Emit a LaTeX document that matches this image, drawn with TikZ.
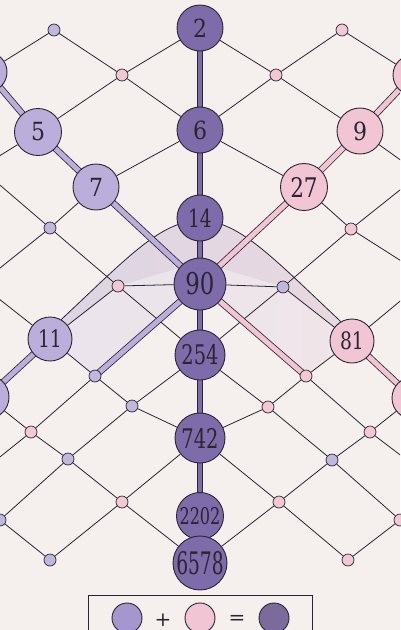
\documentclass[tikz,border=0pt]{standalone}
\usepackage{graphicx}
\usepackage{fontspec}
\setmainfont{DejaVu Serif}
\usetikzlibrary{backgrounds}

\definecolor{paper}{HTML}{F5F0EE}
\definecolor{ink}{HTML}{2B2433}
\definecolor{deep}{HTML}{7D6BAA}
\definecolor{lilac}{HTML}{BBAEDB}
\definecolor{rose}{HTML}{F1C5D3}
\definecolor{lilacdot}{HTML}{BFB8DD}
\definecolor{rosedot}{HTML}{F2C8D3}
\definecolor{bandL}{HTML}{DCD5E4}
\definecolor{bandR}{HTML}{E9D8DF}
\definecolor{hazeL}{HTML}{EAE4EC}
\definecolor{hazeR}{HTML}{F0E5E9}
\definecolor{keydeep}{HTML}{7A6B9C}
\definecolor{keylilac}{HTML}{A596CE}

\newcommand{\nodenum}[3]{\fontsize{#1}{#1}\selectfont\scalebox{#2}[1]{#3}}

\tikzset{
	numnode/.style = {draw = ink, shape = circle, line width = 0.9pt,
					  inner sep = 0pt, text = ink},
	centre/.style = {numnode, fill = deep},
	lilacnode/.style = {numnode, fill = lilac},
	rosenode/.style = {numnode, fill = rose},
	dotL/.style = {draw = ink, shape = circle, line width = 0.7pt,
				   inner sep = 0pt, minimum size = 12pt, fill = lilacdot},
	dotR/.style = {dotL, fill = rosedot},
	mesh/.style = {draw = ink, line width = 0.8pt},
	spine/.style = {draw = ink, line width = 0.8pt, double = deep,
					double distance = 4.5pt, shorten <= -3pt, shorten >= -3pt},
	lilacbar/.style = {spine, double = lilac, double distance = 5pt},
	rosebar/.style = {spine, double = rose, double distance = 5pt}
}

\begin{document}
\begin{tikzpicture}[x = 1pt, y = -1pt]

	\useasboundingbox (0,0) rectangle (400,630);

	% column
	\draw (200,28) node[centre, minimum size = 46pt] (n2) {\nodenum{25}{0.88}{2}};
	\draw (200,130) node[centre, minimum size = 46pt] (n6) {\nodenum{25}{0.88}{6}};
	\draw (200,218) node[centre, minimum size = 46pt] (n14) {\nodenum{25}{0.74}{14}};
	\draw (200,284) node[centre, minimum size = 52pt] (n90) {\nodenum{30}{0.76}{90}};
	\draw (200,355) node[centre, minimum size = 50pt] (n254) {\nodenum{27}{0.72}{254}};
	\draw (200,438) node[centre, minimum size = 50pt] (n742) {\nodenum{27}{0.72}{742}};
	\draw (200,516) node[centre, minimum size = 47pt] (n2202) {\nodenum{23}{0.7}{2202}};
	\draw (200,563) node[centre, minimum size = 54pt] (n6578) {\nodenum{31}{0.6}{6578}};

	\draw (38,132) node[lilacnode, minimum size = 47pt] (n5) {\nodenum{25}{0.88}{5}};
	\draw (96,187) node[lilacnode, minimum size = 46pt] (n7) {\nodenum{25}{0.88}{7}};
	\draw (50,339) node[lilacnode, minimum size = 44pt] (n11) {\nodenum{24}{0.78}{11}};
	\draw (-13,72) node[lilacnode, minimum size = 40pt] (edgeL1) {};
	\draw (-13,397) node[lilacnode, minimum size = 44pt] (edgeL2) {};

	\draw (360,131) node[rosenode, minimum size = 46pt] (n9) {\nodenum{25}{0.88}{9}};
	\draw (304,187) node[rosenode, minimum size = 47pt] (n27) {\nodenum{27}{0.8}{27}};
	\draw (352,341) node[rosenode, minimum size = 44pt] (n81) {\nodenum{24}{0.78}{81}};
	\draw (413,75) node[rosenode, minimum size = 40pt] (edgeR1) {};
	\draw (413,398) node[rosenode, minimum size = 42pt] (edgeR2) {};

	% small dots
	\draw (54,30) node[dotL] (da) {};
	\draw (122,75) node[dotR] (db) {};
	\draw (276,75) node[dotR] (dc) {};
	\draw (342,30) node[dotR] (dd) {};
	\draw (50,228) node[dotL] (de) {};
	\draw (351,229) node[dotR] (df) {};
	\draw (118,286) node[dotR] (dg) {};
	\draw (283,287) node[dotL] (dh) {};
	\draw (95,376) node[dotL] (di) {};
	\draw (306,376) node[dotR] (dj) {};
	\draw (132,406) node[dotL] (dk) {};
	\draw (268,407) node[dotR] (dl) {};
	\draw (31,432) node[dotR] (dm) {};
	\draw (370,432) node[dotR] (dn) {};
	\draw (68,459) node[dotL] (do) {};
	\draw (332,460) node[dotL] (dp) {};
	\draw (122,502) node[dotR] (dq) {};
	\draw (279,502) node[dotR] (dr) {};
	\draw (0,520) node[dotL] (ds) {};
	\draw (400,520) node[dotR] (dt) {};
	\draw (50,560) node[dotL] (du) {};
	\draw (348,560) node[dotR] (dv) {};

	\coordinate (offL1) at (-20,168);
	\coordinate (offL2) at (-20,284);
	\coordinate (offL3) at (-20,473);
	\coordinate (offR1) at (420,174);
	\coordinate (offR2) at (428,278);
	\coordinate (offR3) at (420,470);
	\coordinate (apex) at (200,220);

	% key
	\draw[ink, line width = 0.8pt] (88,595) rectangle (312,660);
	\draw (127,618) node[numnode, fill = keylilac, minimum size = 30pt] (keyA) {};
	\draw (163,620) node[text = ink] (plus) {\nodenum{20}{1}{+}};
	\draw (200,618) node[numnode, fill = rose, minimum size = 30pt] (keyB) {};
	\draw (237,620) node[text = ink] (equals) {\nodenum{20}{1}{=}};
	\draw (274,618) node[numnode, fill = keydeep, minimum size = 30pt] (keyC) {};

	\begin{pgfonlayer}{background}
		\clip (0,0) rectangle (400,630);
		\fill[paper] (0,0) rectangle (400,630);

		\shade[left color = hazeL, right color = hazeR] (dg.center) -- (200,262)
			-- (dh.center) -- (n81.center) -- (dj.center) -- (n90.center)
			-- (di.center) -- (n11.center) -- cycle;
		\shade[left color = bandL, right color = bandR] (n11.center) -- (n11.60)
			.. controls (130,255) and (160,222) .. (apex)
			.. controls (240,222) and (270,255) .. (n81.120) -- (n81.center)
			-- (dh.center) -- (200,262) -- (dg.center) -- cycle;
		\draw[mesh] (n11.60) .. controls (130,255) and (160,222) .. (apex)
			.. controls (240,222) and (270,255) .. (n81.120);

		\draw[mesh] (edgeL1) -- (da) -- (db) -- (n2) -- (dc) -- (dd) -- (edgeR1);
		\draw[mesh] (n5) -- (db) -- (n6) -- (dc) -- (n9);
		\draw[mesh] (n5) -- (offL1) -- (de) -- (n7) -- (n6) -- (n27) -- (df) -- (offR1) -- (n9);
		\draw[mesh] (de) -- (offL2) -- (n11);
		\draw[mesh] (df) -- (offR2) -- (n81);
		\draw[mesh] (de) -- (dg) -- (n90) -- (dh) -- (df);
		\draw[mesh] (n11) -- (dg) -- (n254) -- (dh) -- (n81);
		\draw[mesh] (n11) -- (di) -- (dk) -- (n742) -- (dl) -- (dj) -- (n81);
		\draw[mesh] (n254) -- (dk) -- (do) -- (dm) -- (di);
		\draw[mesh] (n254) -- (dl) -- (dp) -- (dn) -- (dj);
		\draw[mesh] (edgeL2) -- (dm) -- (offL3);
		\draw[mesh] (edgeR2) -- (dn) -- (offR3);
		\draw[mesh] (ds) -- (do) -- (dq) -- (n742) -- (dr) -- (dp) -- (dt);
		\draw[mesh] (ds) -- (du) -- (dq) -- (n6578) -- (dr) -- (dv) -- (dt);

		\draw[spine] (n2) -- (n6);
		\draw[spine] (n6) -- (n14);
		\draw[spine] (n14) -- (n90);
		\draw[spine] (n90) -- (n254);
		\draw[spine] (n254) -- (n742);
		\draw[spine] (n742) -- (n2202);

		\draw[lilacbar] (edgeL1) -- (n5);
		\draw[lilacbar] (n5) -- (n7);
		\draw[lilacbar] (n7) -- (n90);
		\draw[lilacbar] (n90) -- (di);
		\draw[lilacbar] (n11) -- (edgeL2);
		\draw[rosebar] (edgeR1) -- (n9);
		\draw[rosebar] (n9) -- (n27);
		\draw[rosebar] (n27) -- (n90);
		\draw[rosebar] (n90) -- (dj);
		\draw[rosebar] (n81) -- (edgeR2);
	\end{pgfonlayer}
\end{tikzpicture}
\end{document}
